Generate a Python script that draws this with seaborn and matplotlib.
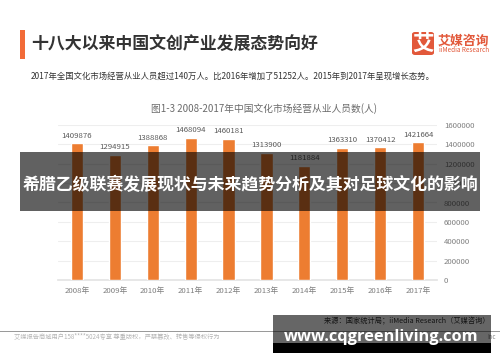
import matplotlib
matplotlib.use('Agg')
import matplotlib.pyplot as plt
from matplotlib.patches import Rectangle, FancyBboxPatch
import pandas as pd
import seaborn as sns

years = ['2008年', '2009年', '2010年', '2011年', '2012年', '2013年', '2014年', '2015年', '2016年', '2017年']
workers = [1409876, 1294915, 1388868, 1468094, 1460181, 1313900, 1181884, 1363310, 1370412, 1421664]
y_ticks = [0, 200000, 400000, 600000, 800000, 1000000, 1200000, 1400000, 1600000]

sns.set_theme(style='white')
plt.rcParams['font.family'] = ['Noto Sans CJK SC', 'DejaVu Sans']

W, H = 500, 362
fig = plt.figure(figsize=(W / 100, H / 100), dpi=100, facecolor='white')


# positions en pixels de l'image
def fx(x):
    return x / W


def fy(y):
    return 1 - y / H


def px_text(x, y, s, **kw):
    kw.setdefault('va', 'center')
    return fig.text(fx(x), fy(y), s, **kw)


def px_rect(x0, y0, x1, y1, **kw):
    r = Rectangle((fx(x0), fy(y1)), fx(x1 - x0), (y1 - y0) / H, transform=fig.transFigure, lw=0, **kw)
    fig.add_artist(r)
    return r


# le graphique
ax = fig.add_axes([fx(58), fy(280), fx(379), (280 - 125) / H])
df = pd.DataFrame({'year': years, 'workers': workers})
sns.barplot(data=df, x='year', y='workers', color='#ED7D31', saturation=1, width=0.32, ax=ax, zorder=3)
ax.set_xlim(-0.5, 9.5)
ax.set_ylim(0, 1600000)
ax.set_xlabel('')
ax.set_ylabel('')
ax.yaxis.tick_right()
ax.set_yticks(y_ticks)
ax.set_yticklabels([str(v) for v in y_ticks])
ax.tick_params(axis='y', length=0, labelsize=5.6, labelcolor='#7f7f7f', pad=5)
ax.tick_params(axis='x', length=0, labelsize=5.6, labelcolor='#7f7f7f', pad=5)
ax.grid(axis='y', color='#eeeeee', lw=0.8, zorder=0)
sns.despine(ax=ax, left=True, right=True, top=True, bottom=False)
ax.spines['bottom'].set_color('#e4e4e4')
for i, v in enumerate(workers):
    ax.annotate(str(v), (i, v), xytext=(0, 2.5), textcoords='offset points', ha='center', va='bottom',
                fontsize=5.6, color='#595959', zorder=4)

# en-tete
px_rect(20, 30, 24.5, 59, color='#F26B38')
px_text(31, 43.5, '十八大以来中国文创产业发展态势向好', fontsize=12.2, color='#333333', fontweight='bold')
px_text(31, 76, '2017年全国文化市场经营从业人员超过140万人。比2016年增加了51252人。2015年到2017年呈现增长态势。',
        fontsize=6, color='#333333')
px_text(264, 109, '图1-3 2008-2017年中国文化市场经营从业人员数(人)', fontsize=7, color='#6b6b6b', ha='center')

# logo
logo = FancyBboxPatch((fx(412), fy(55)), fx(22), 23 / H, boxstyle='round,pad=0,rounding_size=0.006',
                      transform=fig.transFigure, color='#E2583A', lw=0)
fig.add_artist(logo)
px_text(423, 43.5, '艾', fontsize=15.5, color='white', ha='center', fontweight='bold')
px_text(438, 40.5, '艾媒咨询', fontsize=9.3, color='#E2583A', fontweight='bold')
px_text(439, 50.5, 'iiMedia Research', fontsize=4.6, color='#E2583A')

# pied de page
px_rect(0, 331, 500, 332, color='#9a9a9a')
px_text(14, 337, '艾媒报告商城用户158****5024专享 尊重版权，严禁篡改、转售等侵权行为', fontsize=4.5, color='#b5b5b5')
px_text(490, 321, '来源：国家统计局；iiMedia Research（艾媒咨询）', fontsize=5.2, color='#333333', ha='right')
px_text(496, 337, 'Inc', fontsize=4.4, color='#8a8a8a', ha='right')

# bandeaux par dessus
px_rect(20, 152, 480, 211, color='black', alpha=0.62, zorder=5)
px_text(250, 185, '希腊乙级联赛发展现状与未来趋势分析及其对足球文化的影响', fontsize=12.2, color='white', ha='center',
        fontweight='bold', zorder=6)
px_rect(273, 315, 491, 343, color='black', alpha=0.6, zorder=5)
px_rect(273, 343, 491, 353, color='black', zorder=5)
px_text(381, 337, 'www.cqgreenliving.com', fontsize=11.8, color='white', ha='center', fontweight='bold',
        family=['Open Sans', 'DejaVu Sans'], zorder=6)

fig.savefig('out.png', dpi=100)
